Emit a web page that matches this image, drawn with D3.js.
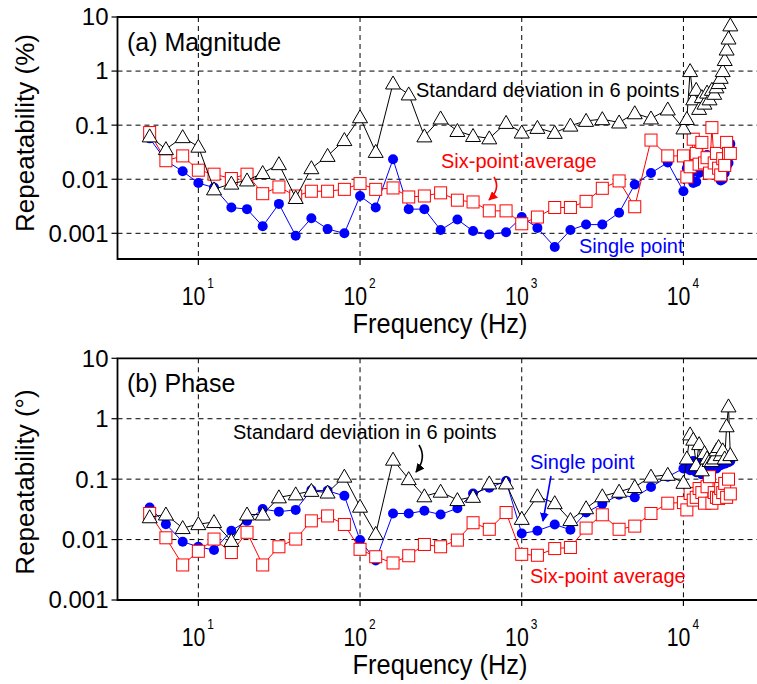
<!DOCTYPE html>
<html>
<head>
<meta charset="utf-8">
<script src="https://cdn.jsdelivr.net/npm/d3@7"></script>
<style>
  body { margin: 0; background: #fff; }
  svg text { font-family: "Liberation Sans", Arial, sans-serif; }
</style>
</head>
<body>
<svg id="chart" width="757" height="684"></svg>
<script>
// frequencies (Hz): 1/3 octave bands up to 10 kHz, then 500 Hz steps
const freqs = [5, 6.3, 8, 10, 12.5, 16, 20, 25, 31.5, 40, 50, 63, 80, 100, 125, 160, 200, 250,
  315, 400, 500, 630, 800, 1000, 1250, 1600, 2000, 2500, 3150, 4000, 5000, 6300, 8000, 10000,
  10500, 11000, 11500, 12000, 12500, 13000, 13500, 14000, 14500, 15000, 15500, 16000, 16500,
  17000, 17500, 18000, 18500, 19000, 19500];

// (a) magnitude, %
const magSingle = [0.057, 0.022, 0.014, 0.0085, 0.007, 0.003, 0.0028, 0.00135, 0.0035, 0.0009,
  0.0019, 0.0012, 0.001, 0.0049, 0.003, 0.0234, 0.0028, 0.0028, 0.00115, 0.0018, 0.0011, 0.00095,
  0.00105, 0.002, 0.00126, 0.00056, 0.00115, 0.00145, 0.00145, 0.0024, 0.008, 0.013, 0.0204, 0.006,
  0.016, 0.012, 0.0085, 0.009, 0.013, 0.02, 0.025, 0.028, 0.022, 0.02, 0.015, 0.018, 0.012, 0.0095,
  0.01, 0.013, 0.017, 0.02, 0.045];
const magAvg = [0.073, 0.022, 0.027, 0.0147, 0.0124, 0.0103, 0.0124, 0.0054, 0.0072, 0.0049,
  0.006, 0.006, 0.0065, 0.0083, 0.0065, 0.0069, 0.0047, 0.0049, 0.0056, 0.0041, 0.0038, 0.0026,
  0.0026, 0.0015, 0.002, 0.003, 0.003, 0.0039, 0.0068, 0.0093, 0.0031, 0.053, 0.027, 0.027,
  0.011, 0.017, 0.055, 0.03, 0.019, 0.048, 0.02, 0.025, 0.013, 0.09, 0.02, 0.03, 0.016, 0.012,
  0.024, 0.018, 0.048, 0.03, 0.03];
const magStd = [0.062, 0.036, 0.06, 0.04, 0.0065, 0.0083, 0.0095, 0.013, 0.019, 0.0045, 0.016,
  0.027, 0.053, 0.14, 0.032, 0.59, 0.37, 0.062, 0.133, 0.078, 0.063, 0.057, 0.11, 0.073, 0.089,
  0.072, 0.098, 0.12, 0.129, 0.112, 0.166, 0.133, 0.195, 0.087,
  0.13, 1.0, 0.3, 0.45, 0.2, 0.33, 0.25, 0.4, 0.3, 0.45, 0.38, 0.5, 0.6, 0.75, 1.0, 1.6, 2.5, 4.0, 7.0];

// (b) phase, degrees
const phSingle = [0.034, 0.018, 0.0092, 0.0076, 0.0067, 0.014, 0.0204, 0.032, 0.029, 0.031,
  0.066, 0.064, 0.053, 0.0098, 0.0045, 0.027, 0.027, 0.030, 0.026, 0.033, 0.058, 0.072, 0.093,
  0.0126, 0.014, 0.0178, 0.0145, 0.028, 0.039, 0.055, 0.050, 0.074, 0.11, 0.15,
  0.17, 0.14, 0.2, 0.13, 0.18, 0.12, 0.16, 0.2, 0.14, 0.17, 0.19, 0.15, 0.2, 0.17, 0.2, 0.18,
  0.21, 0.19, 0.2];
const phAvg = [0.027, 0.0107, 0.0038, 0.0064, 0.0102, 0.0061, 0.0132, 0.0038, 0.0076, 0.0102,
  0.0204, 0.0246, 0.0178, 0.0069, 0.0052, 0.0041, 0.0054, 0.0083, 0.0076, 0.0098, 0.019, 0.0148,
  0.028, 0.0057, 0.0055, 0.0071, 0.0074, 0.0155, 0.0257, 0.0148, 0.0167, 0.027, 0.040, 0.041,
  0.031, 0.058, 0.045, 0.05, 0.07, 0.06, 0.04, 0.075, 0.11, 0.04, 0.06, 0.05, 0.048, 0.07, 0.06,
  0.085, 0.05, 0.1, 0.057];
const phStd = [0.0234, 0.026, 0.0155, 0.018, 0.0195, 0.0095, 0.026, 0.026, 0.05, 0.056, 0.064,
  0.06, 0.11, 0.035, 0.0124, 0.21, 0.10, 0.052, 0.062, 0.045, 0.051, 0.085, 0.085, 0.022, 0.052,
  0.040, 0.021, 0.033, 0.052, 0.062, 0.074, 0.11, 0.118, 0.087,
  0.22, 0.55, 0.45, 0.17, 0.38, 0.14, 0.27, 0.22, 0.2, 0.2, 0.22, 0.3, 0.34, 0.25, 0.3, 0.22,
  0.75, 1.6, 0.25];

const xTicks = [10, 100, 1000, 10000];
const yTickLabels = ["10", "1", "0.1", "0.01", "0.001"];
const yTicks = [10, 1, 0.1, 0.01, 0.001];

const svg = d3.select("#chart");
svg.append("rect").attr("width", 757).attr("height", 684).attr("fill", "#fff");

const defs = svg.append("defs");
[["headK", "#000"], ["headR", "#ff0000"], ["headB", "#0000ff"]].forEach(([id, c]) => {
  defs.append("marker").attr("id", id)
    .attr("viewBox", "0 0 10 10").attr("refX", 9).attr("refY", 5)
    .attr("markerWidth", 9).attr("markerHeight", 9)
    .attr("markerUnits", "userSpaceOnUse")
    .attr("orient", "auto")
    .append("path").attr("d", "M0,0 L10,5 L0,10 Z").attr("fill", c);
});

const x = d3.scaleLog().domain([Math.pow(10, 0.5), Math.pow(10, 4.455)]).range([117.5, 757]);

function drawPanel(p) {
  const y = d3.scaleLog().domain(p.yDomain).range([p.bottom, p.top]);
  const g = svg.append("g");

  // grid
  g.selectAll(".gy").data(yTicks.filter(t => y(t) > p.top + 1 && y(t) < p.bottom - 1))
    .enter().append("line")
    .attr("x1", x.range()[0]).attr("x2", 757)
    .attr("y1", d => y(d)).attr("y2", d => y(d))
    .attr("stroke", "#000").attr("stroke-width", 1).attr("stroke-dasharray", "5,4");
  g.selectAll(".gx").data(xTicks).enter().append("line")
    .attr("x1", d => x(d)).attr("x2", d => x(d))
    .attr("y1", p.top).attr("y2", p.bottom)
    .attr("stroke", "#000").attr("stroke-width", 1).attr("stroke-dasharray", "5,4");

  // frame (right edge is cut off in the original)
  g.append("path")
    .attr("d", `M757,${p.top} H${x.range()[0]} V${p.bottom} H757`)
    .attr("fill", "none").attr("stroke", "#000").attr("stroke-width", 1.8);

  // y ticks + labels
  yTicks.forEach((t, i) => {
    g.append("line").attr("x1", x.range()[0] - 6).attr("x2", x.range()[0])
      .attr("y1", y(t)).attr("y2", y(t)).attr("stroke", "#000").attr("stroke-width", 1.2);
    g.append("text").attr("x", x.range()[0] - 9).attr("y", y(t))
      .attr("dy", "0.35em").attr("text-anchor", "end")
      .attr("font-size", 24).text(yTickLabels[i]);
  });

  // x ticks + labels (narrow "10" with superscript exponent)
  xTicks.forEach(t => {
    g.append("line").attr("x1", x(t)).attr("x2", x(t))
      .attr("y1", p.bottom).attr("y2", p.bottom + 6).attr("stroke", "#000").attr("stroke-width", 1.2);
    g.append("text")
      .attr("transform", `translate(${x(t) + 7},${p.bottom + 46}) scale(0.85,1)`)
      .attr("text-anchor", "end").attr("font-size", 25).text("10");
    g.append("text")
      .attr("transform", `translate(${x(t) + 9},${p.bottom + 29}) scale(0.85,1)`)
      .attr("font-size", 14).text(Math.round(Math.log10(t)));
  });

  g.append("text")
    .attr("transform", `translate(440,${p.bottom + 74}) scale(0.94,1)`)
    .attr("text-anchor", "middle").attr("font-size", 27).text("Frequency (Hz)");

  g.append("text")
    .attr("transform", `translate(34,${p.titleY}) rotate(-90)`)
    .attr("text-anchor", "middle").attr("font-size", 26).text(p.yLabel);

  const rows = freqs.map((f, i) => ({ f, s: p.single[i], a: p.avg[i], d: p.std[i] }));
  const line = key => d3.line().x(d => x(d.f)).y(d => y(d[key]))(rows);

  const plot = g.append("g");
  plot.append("path").attr("d", line("s")).attr("fill", "none").attr("stroke", "#0000ff").attr("stroke-width", 1);
  plot.selectAll(".c").data(rows).enter().append("circle")
    .attr("cx", d => x(d.f)).attr("cy", d => y(d.s)).attr("r", 5).attr("fill", "#0000ff");

  plot.append("path").attr("d", line("a")).attr("fill", "none").attr("stroke", "#ff0000").attr("stroke-width", 1);
  plot.selectAll(".sq").data(rows).enter().append("rect")
    .attr("x", d => x(d.f) - 6).attr("y", d => y(d.a) - 6)
    .attr("width", 12).attr("height", 12)
    .attr("fill", "#fff").attr("stroke", "#ff0000").attr("stroke-width", 1);

  plot.append("path").attr("d", line("d")).attr("fill", "none").attr("stroke", "#000").attr("stroke-width", 1);
  plot.selectAll(".tr").data(rows).enter().append("path")
    .attr("transform", d => `translate(${x(d.f)},${y(d.d)})`)
    .attr("d", "M0,-7.5 L7.5,5.5 L-7.5,5.5 Z")
    .attr("fill", "#fff").attr("stroke", "#000").attr("stroke-width", 1);

  // panel title and annotations
  g.append("text").attr("x", 127).attr("y", p.top + 34).attr("font-size", 25).text(p.title);
  p.notes.forEach(n => {
    g.append("text").attr("x", n.x).attr("y", n.y).attr("font-size", 20)
      .attr("fill", n.color).text(n.text);
  });
  p.arrows.forEach(a => {
    g.append("path").attr("d", a.d).attr("fill", "none")
      .attr("stroke", a.color).attr("stroke-width", 1.6)
      .attr("marker-end", `url(#${a.head})`);
  });
}

drawPanel({
  top: 17, bottom: 259, yDomain: [Math.pow(10, -3.475), 10],
  title: "(a) Magnitude", yLabel: "Repeatability (%)", titleY: 133,
  single: magSingle, avg: magAvg, std: magStd,
  notes: [
    { x: 416, y: 97, text: "Standard deviation in 6 points", color: "#000" },
    { x: 441, y: 168, text: "Six-point average", color: "#ff0000" },
    { x: 579, y: 253, text: "Single point", color: "#0000ff" }
  ],
  arrows: [
    { d: "M494,177 Q501,189 489,200", color: "#ff0000", head: "headR" }
  ]
});

drawPanel({
  top: 358.3, bottom: 600, yDomain: [0.001, 10],
  title: "(b) Phase", yLabel: "Repeatability (°)", titleY: 482,
  single: phSingle, avg: phAvg, std: phStd,
  notes: [
    { x: 233, y: 439, text: "Standard deviation in 6 points", color: "#000" },
    { x: 530, y: 469, text: "Single point", color: "#0000ff" },
    { x: 530, y: 583, text: "Six-point average", color: "#ff0000" }
  ],
  arrows: [
    { d: "M419,445 Q427,458 416,472", color: "#000", head: "headK" },
    { d: "M551,476 L543,521", color: "#0000ff", head: "headB" }
  ]
});
</script>
</body>
</html>
